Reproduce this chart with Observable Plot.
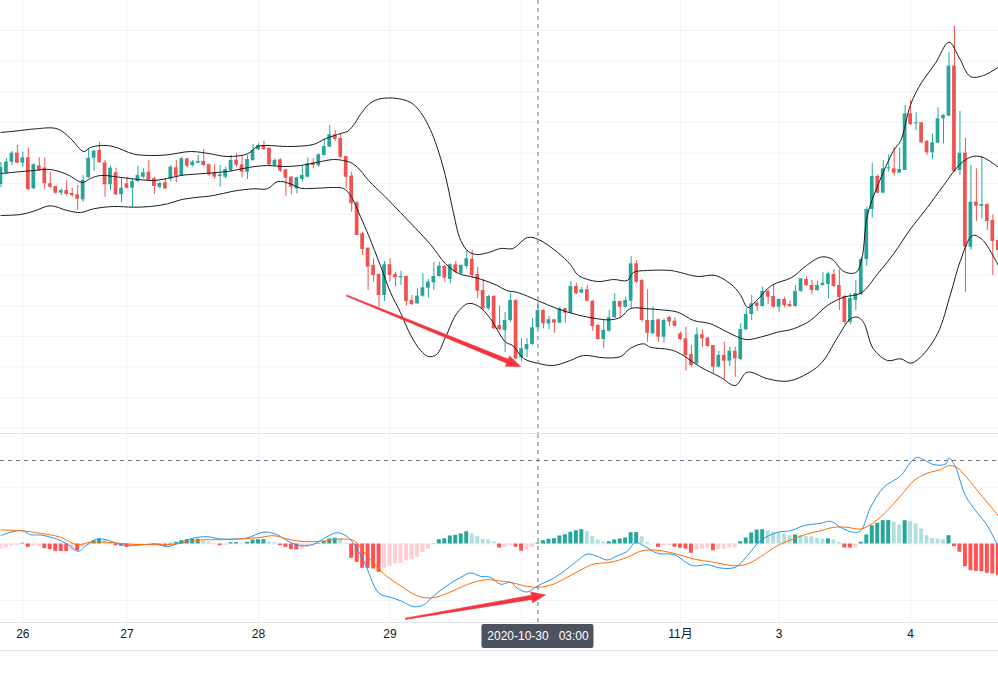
<!DOCTYPE html>
<html><head><meta charset="utf-8">
<script src="https://cdn.jsdelivr.net/npm/d3@7"></script>
<script src="https://cdn.jsdelivr.net/npm/@observablehq/plot@0.6"></script>
<style>
html,body{margin:0;padding:0;background:#fff;}
#wrap{width:998px;}
#main{height:433px;border-bottom:1px solid #e0e3eb;}
#macd{height:216px;border-bottom:1px solid #e0e3eb;}
svg{display:block;}
</style></head><body>
<div id="wrap"><div id="main"></div><div id="macd"></div></div>
<script>
// ---- hourly candles (index 0..182), price units ----
const opens = [
316,327.5,338.3,347.3,337.3,342.7,311.7,334.7,332.3,316.7,
314,307.3,310,307,305.7,300.7,322.7,342.3,350,337.7,
315.7,327.7,305.7,316.7,312.3,319,323.3,328.3,321.7,313.3,
317.7,321.7,332.7,325,341.7,335,337.3,339,335.7,327.7,
324,323.3,330,340.3,335.7,328.3,340,350.7,354.3,352.3,
335,340.7,330.7,323.3,311.7,321,323.3,337.3,335,345,
353.3,365.5,362,344,324.3,297.7,266.7,252.3,235,226,
205,235.7,226,222.7,224,200,196.7,204.3,212.3,217.7,
224,234,221,235.7,226.7,234,241,226,210,191.7,
204,175,170,180,200,142.7,150.7,156,172.7,190,
176.7,180.7,177.3,191.7,187.3,214,207.3,210.7,199.3,175,
161,169.3,182.7,199,193.3,199.3,236.7,220,180,166.7,
180.7,163.3,183,179.3,166.7,161.7,146,136.7,165.7,162.3,
155,133.3,145,139.3,149.3,141,170.7,186,197.3,194,
209,204,193.3,201,196,194,209,221,215,210,
215,216,226,215,204,178,200,206,241,291,
324,307.3,331.7,331.7,327.3,330,386.7,376.7,377.7,359,
347.7,357.3,381.7,384.3,434.3,330,347.3,253.3,298.3,294.3,
296,280,260];
const highs = [
338,342,349,355,348.3,352.3,336.7,342.7,342.7,328.3,
314,311.7,319.7,312.3,315,325,351.7,350,358.3,340,
334.3,332.3,321.7,323.3,321.7,334.3,331.7,340,323.3,318.3,
322.3,335,340,343.3,342.3,340,345,351,336.7,335.7,
335,333.3,345,346.7,345,345,356,356.7,359.3,352.3,
341.7,341.7,331,324,323.3,334,342.7,341.7,346.7,361.7,
375,370,367,344,328.3,299,268.3,252.3,241.7,226.7,
239,241.7,228.3,229.3,224.3,205,211.7,226.7,221,238.3,
238.3,235,236.7,239,235.7,250,250,233.3,221,205,
205,194.3,188,206.7,200.7,161.7,162,181.7,198.3,190.7,
184,180.7,193.3,192.7,219,217.3,213.3,215,200,175.7,
180,190,206.7,199.3,203.3,244,240,220.7,210.7,193.3,
181.3,181.3,184,182.7,168.3,173.3,155,172.7,170.7,163.3,
155,149.3,158.3,153.3,153.3,176.7,191.7,205,199.3,213.3,
210.7,216,201.7,203.3,199.3,215,221.7,223.3,220,219.3,
227.7,228.3,231,231,205,207,220,243,293,337.3,
325.7,340,345.7,353.3,352.3,395,400,387.7,378.3,360,
366.7,392.7,386,448.3,474.3,389,362.3,335,331.7,344.3,
296.7,285.7,264];
const lows = [
313,326,335,336.7,333.3,310,311,329.3,311,312.3,
306.3,305,304.3,303.3,290,298.3,322.3,329.3,337.7,303.3,
309.7,305,298,311.7,293,317.7,321.7,320,306,311.7,
311,318.3,317.7,324.3,332.3,333.3,336.7,334.3,324,321,
313.3,321.7,328.3,333.3,322.7,321,339,350,350,334.3,
333.3,328.3,304.3,305.7,306.7,318.3,322.7,331.7,333.3,344.3,
353.3,359,342,311.7,288.3,265,245,210,218.3,193.3,
199,218.3,213.3,215,194.3,195,196,203.3,202.3,210,
223.3,218.3,216.7,226.7,225.7,231.7,221.7,201.7,190,190,
171,170,148,178,140.7,139,143,155,171.7,171.7,
170.7,167.3,176.7,177.3,186.7,205.7,206.7,198.3,169.3,160.7,
151.7,168.3,182.3,183.3,192.7,191.7,216.7,178.3,158.3,166,
158.3,157.3,174,173.3,160,129.3,133.3,135,153.3,153.3,
127.3,132.7,120.7,134,123.3,140,170,180,189,193.3,
196,192.3,188.3,192.7,192.7,193.3,208.3,214,205.7,209.3,
214.3,201.7,213,190,176,176,190,205,234,282.3,
306.7,306.7,328.3,324.3,327.3,330,375,370,356.7,345,
341,356.7,356.7,384.3,328.3,325,207.7,250,279,281.7,
270,225,240];
const closes = [
333,338.5,347.3,337.3,342.7,311,335.7,330,316.7,313.3,
307.3,310,306,305,301.3,320,342.3,349.3,337.7,315.7,
332.3,305.7,312.3,312.3,319,325,327.7,320,314,317,
311.7,333.3,324.3,341.7,334.3,338.3,339,335,325.7,323.3,
325.7,331,340,335.3,328.3,341,350,355,351,335.7,
340,329.3,322.3,313.3,322.7,325,336.7,335,345.7,354,
365.7,361,343.3,323.3,296.7,265,251,233.3,225,205,
235.7,225,222.7,224,199,196,204.3,212.7,218.3,224,
234.3,222.3,235.7,228.3,235,241.7,225,209.3,191.7,204,
171.7,171,180,200,141.7,151.7,156,172.7,190,176.7,
180.7,177.3,191.7,187.3,214,206.7,210.7,199.3,174,161,
170,182.7,199,193.3,200,236.7,218.3,180,167.3,180,
163.3,180,178.5,174.3,161,145,135,165.7,161.7,154,
133.3,145,139.3,149.3,141.7,171,186,196.7,194,209,
203.3,193.3,201,195,194,209,221.7,215,210,215,
217.3,226.7,214,203,178,202,207,241,291,324,
307.3,331.7,332.3,327.3,331,386.7,376,377.7,357.7,347.7,
357.7,381.7,385,434.3,329,347.3,253.3,298.3,294.3,296,
279,259,250];

// ---- Bollinger bands, sampled [index, price] ----
const bbUpper = [[0,368],[3.6,370],[6,371.5],[10.3,371.7],[12.7,362],[15.1,349],[16.3,353],[18.2,355],[20.5,354],[24.2,346.5],[27.3,345],[30.4,345.7],[34.6,349],[38.2,346.7],[41.3,344],[45,346.7],[46.8,354],[48.6,355],[52.3,354],[57,356],[59.2,361.7],[62,367],[63.2,369],[64.3,375],[65.6,386],[67.1,396],[68.7,401],[70.5,402.5],[72.4,402],[74.2,399.5],[75.3,396],[76.6,388],[78,375],[79.3,358],[81.1,325],[82.4,292],[83.9,260],[85.3,249],[86.8,246],[89,248],[91.2,252],[93.4,252],[96.1,263],[98.1,261],[101.6,248],[103.9,236],[105.4,225],[108.9,219],[111.8,221],[114.3,220],[115.4,228],[118,230],[122.2,230],[124,228],[127.1,224],[130.4,225],[133.7,214],[135,205],[136.3,193],[137.9,200],[140.6,215],[144.3,223],[147,235],[149.7,243.5],[151.6,241.5],[153.8,229],[156,228],[157.1,242],[158.1,285],[160,315],[162.9,350],[164.2,360],[166,396],[168,418],[170.5,437],[173,458.3],[174.9,442.5],[176.9,424],[179.3,425],[182,433.3]];
const bbMiddle = [[0,327],[6,330],[9,331],[12.1,326],[14.9,318],[16.3,322],[18.2,325],[21.3,323.5],[24.2,321.5],[27.8,320],[30.4,322],[32.8,325],[36.4,326.7],[40.1,328.3],[42.4,330],[45.5,333.3],[48.6,335],[51.6,334],[54.7,335],[57.8,338.3],[60.7,341],[62.5,340],[63.8,338],[65.1,333],[67.1,320],[70.2,303.3],[72.9,288],[75.7,272],[78.4,256],[81.1,237],[83.5,227],[85.7,224],[87.7,221],[90.4,215.5],[92.3,210],[94.3,208],[97.9,200],[101.6,191.7],[105.2,185.7],[108.9,181.7],[111.2,180.7],[113.1,183.3],[114.9,192],[118,191.7],[120.4,190.7],[123.5,188.3],[126.4,180],[129.5,176.7],[132.6,168.3],[135.9,161],[138.6,163.3],[141.7,168.3],[144.6,171.7],[147.7,180],[150.8,195],[153.8,203.3],[156.9,207.3],[160,226.7],[162.9,246.7],[166,271.7],[169.1,293.3],[172,315],[175.1,336.7],[177.3,344],[179.1,343.3],[182,333.3]];
const bbLower = [[0,285],[3.6,286],[6,289.3],[9,294.7],[12.1,290],[14.5,288],[16.9,291.7],[20.5,294],[24.2,293.3],[27.3,294],[30.4,296.7],[32.8,300.7],[35.1,302.7],[38.8,305],[42.4,309.3],[46.1,311.7],[48.6,311.7],[50.5,319],[52.8,316.7],[54.7,312.3],[57.8,312.3],[60.7,313],[62.5,312],[63.8,305],[65.6,284],[67.1,265],[69.3,234],[71.1,208],[72.9,188],[74.8,165],[76.6,150],[78,144],[79.5,146],[81.1,163],[83.3,188],[85.3,197],[87.2,194],[89.3,182],[92.1,158.3],[93.4,155],[95.4,142],[97.9,137.3],[100.8,135],[103.9,140],[106.3,145],[110,142.7],[113.1,144],[114.9,152.3],[117.3,156.7],[118.5,153.3],[122.2,150.7],[124,146.7],[127.7,133.3],[131.3,123.3],[134,115],[136.2,128.3],[139.9,121.7],[143.5,119.3],[146.5,125],[149.6,136.7],[152.7,163.3],[155,181.7],[156.3,183.3],[157.4,178.3],[159.2,151.7],[161.8,140],[164.2,141.7],[166,137.3],[167.8,143.3],[170.9,166.7],[173.3,206.7],[175.1,240],[177.3,265],[179.1,260.7],[182,235]];

// ---- MACD ----
const histValues = [
-5,-4,-2,-1.7,0.7,-3.3,-2.3,-2.2,-4.7,-5.7,
-7.3,-7.4,-7.5,-6.7,-7,-3.3,-1,3.3,5,3.3,
1.7,-1.7,-2.3,-3.3,-1.7,-1.2,-0.8,-0.5,-0.9,-1.7,
-2.3,0.7,1.7,3.3,4.3,4.7,4.8,2.7,2,0.7,
-1.7,-1.3,1.3,1.4,0.7,1.7,4,4.3,4.4,2,
1.3,-1.7,-3.3,-5.7,-6,-5,-3.3,-2.3,0.7,2.3,
5,5.7,5,0.7,-14.3,-18.3,-24.3,-24.4,-25,-28.3,
-24.3,-22.7,-20,-19.3,-16.7,-15.7,-13.3,-8.3,-5,0.3,
4.3,5.3,8,8.7,10,12.3,10.3,7.3,4.7,4,
2.3,-4,-3.3,-1.7,-3.3,-7.3,-6,-3.3,1,3.3,
4.7,5.3,8,9.3,11.7,13.3,14.3,12.3,7.3,4,
2,2.3,4,5,6,11.3,11.4,7.3,1.7,0.3,
-3.3,-2.3,-1.7,-3.3,-4.3,-5,-9.3,-6,-5,-4.9,
-6.7,-5.7,-5,-4,-3.9,2.3,6,11,14,14.3,
13.3,11.7,11,10,8.3,9,8.3,7.3,7.2,5.7,
5,5.1,4,1.7,-4,-4.1,-3.9,1.7,9,18.3,
20.7,23.3,23.4,21.7,19,23.3,22.3,20,15,8.3,
5.7,5,4.3,8.3,-2.7,-8.3,-22.7,-26.7,-27.3,-27.7,
-29.3,-30,-31.7];
const histPrev = -5.6;
const difLine = [[0,8.3],[1.7,11.7],[3.9,13.3],[5.4,9.3],[7.2,9],[9.6,6],[12.1,0],[14.1,-7.3],[15.7,-1],[17.6,5],[19.4,4],[20.6,1.7],[23,-1.7],[25.5,-1],[28.5,0],[30.3,-2.7],[32.8,1.7],[35.2,6],[37.6,7.3],[40.1,5],[42.5,5],[44.9,6],[48,12],[50.4,9.3],[52.8,1.7],[54.7,-1.7],[57.1,0],[59.5,7.3],[61.4,11.3],[63.2,7.3],[64.4,0],[66.2,-16.7],[69,-49.3],[71.1,-53.3],[72.9,-56.7],[75.4,-62.7],[77.2,-60.7],[79,-51.7],[81.4,-41.7],[83.9,-33.3],[85.7,-29],[87.5,-32.3],[89.3,-33.3],[91.2,-40.3],[93,-38.3],[94.2,-44],[96,-48],[98,-41.7],[100.9,-34],[103.3,-25],[105.2,-16.7],[107,-10],[108.8,-12.3],[110.6,-16],[112.5,-11.7],[114.3,-7.3],[115.8,1.7],[117.3,-1.7],[119.8,-9.3],[122.8,-10.7],[126.2,-21.7],[128.9,-20.7],[131.3,-24],[134,-23.3],[136.2,-11.7],[138.6,3.3],[141.7,11.7],[144.1,13.3],[146.5,18.3],[149.6,20.7],[151.4,22.7],[153.2,16.7],[155.6,11.7],[156.9,13.3],[158.7,36.7],[161.1,56.7],[164.2,68.3],[166,81.7],[167.2,86.7],[168.5,84],[170.3,79.3],[172.4,80],[173,86],[174.2,76.7],[176,48.3],[178.1,31.7],[180,18.3],[182,-2.7]];
const deaLine = [[0,14],[3.6,13.3],[7.2,10.7],[10.9,6.7],[13.9,-0.7],[16.3,1.7],[19.4,1.7],[23,0],[26.7,-0.7],[30.3,-0.7],[32.8,0.7],[36.4,4],[40.1,4.3],[43.7,5],[47.4,6.7],[49.8,8.3],[52.2,5],[54.7,2.7],[58.3,2.7],[62,5],[64.4,3.3],[66.8,-11.7],[69.9,-30],[72.9,-41.7],[75.9,-51.7],[78.4,-54],[80.8,-50.7],[83.9,-43.3],[86.3,-38.3],[88.7,-35.7],[91.2,-37],[93,-38.3],[95.4,-41.7],[98,-43.3],[100.9,-40],[103.3,-33.3],[105.8,-26],[108.2,-20],[111.2,-18.3],[114.3,-13.3],[116.7,-7.3],[119.2,-6],[122.8,-9.3],[126.4,-15],[130.1,-18.3],[133.7,-21.7],[136.2,-20],[138.6,-12.7],[141.7,-1.7],[144.1,4],[147.1,10],[149.6,13.3],[152,16.7],[154.4,16.7],[156.9,15],[159.3,21.7],[161.7,33.3],[164.2,48.3],[166.6,63.3],[169,70.7],[171.4,74.3],[172.9,78.3],[174.4,76.7],[176.2,66.7],[178.7,50],[182,28.3]];

// ---- time axis ----
const gridIdx = [4, 23, 47, 71, 95, 124, 142, 166];
const tickIdx = [4, 23, 47, 71, 124, 142, 166];   // the "30" label sits under the crosshair label
const tickLabels = ["26", "27", "28", "29", "11月", "3", "4"];
const crossIdx = 98;
const crossLabel = "2020-10-30\u00a0\u00a0\u00a003:00";
const crossMacd = 83.5;

// ---- annotations (red arrows) ----
const arrowMain = {x1: 63.06, y1: 205, x2: 94.81, y2: 134};
const arrowMacd = {x1: 73.8, y1: -74.8, x2: 99.37, y2: -51};

const mainGrid = [470, 439.4, 408.8, 378.2, 347.6, 317, 286.4, 255.8, 225.2, 194.6, 164, 133.4, 102.8, 72.2];
const macdGrid = [56.2, 0, -56.5];

// ---------- rendering ----------
const W = 998;
const xDomain = [-0.0803, 182.036];
const kx = W / (xDomain[1] - xDomain[0]);
const UP = "#26a69a", DOWN = "#ef5350", GRID = "#f0f3fa", CROSS = "#6a7687", ARROW = "#f5333f";
const FONT = "'Liberation Sans', Arial, 'Noto Sans CJK SC', sans-serif";

const candles = opens.map((o, i) => ({i, o, h: highs[i], l: lows[i], c: closes[i]}));
const hist = histValues.map((v, i) => {
  const p = i > 0 ? histValues[i - 1] : histPrev;
  const col = v >= 0 ? (v >= p ? "#26a69a" : "#b2dfdb") : (v <= p ? "#ff5252" : "#ffcdd2");
  return {i, v, col};
});

function arrowPoly(a, ky) {
  const dx = (a.x2 - a.x1) * kx, dy = -(a.y2 - a.y1) * ky;
  const L = Math.hypot(dx, dy), ux = dx / L, uy = dy / L, nx = -uy, ny = ux;
  const head = 14, hw = 5.5, w0 = 0.6, w1 = 2.1;
  const bx = ux * (L - head), by = uy * (L - head);
  const pts = [
    [nx * w0, ny * w0], [bx + nx * w1, by + ny * w1], [bx + nx * hw, by + ny * hw],
    [dx, dy], [bx - nx * hw, by - ny * hw], [bx - nx * w1, by - ny * w1], [-nx * w0, -ny * w0]
  ];
  return pts.map(([px, py]) => [a.x1 + px / kx, a.y1 - py / ky]);
}

const bodyLo = d => Math.min(d.o, d.c);
const bodyHi = d => Math.max(d.o, d.c, Math.min(d.o, d.c) + 1);
const cCol = d => d.c >= d.o ? UP : DOWN;

const mainPlot = Plot.plot({
  width: W, height: 433,
  marginLeft: 0, marginRight: 0, marginTop: 0, marginBottom: 0,
  style: {fontFamily: FONT, background: "#fff"},
  x: {domain: xDomain, axis: null},
  y: {domain: [67, 500], axis: null},
  color: {type: "identity"},
  marks: [
    Plot.ruleY(mainGrid, {stroke: GRID}),
    Plot.ruleX(gridIdx, {stroke: GRID}),
    Plot.ruleX(candles, {x: "i", y1: "l", y2: "h", stroke: cCol, strokeWidth: 1}),
    Plot.rect(candles, {x1: d => d.i - 0.34, x2: d => d.i + 0.34, y1: bodyLo, y2: bodyHi, fill: cCol}),
    Plot.line(bbUpper, {x: d => d[0], y: d => d[1], curve: "catmull-rom", stroke: "#1c1c1c", strokeWidth: 1}),
    Plot.line(bbMiddle, {x: d => d[0], y: d => d[1], curve: "catmull-rom", stroke: "#1c1c1c", strokeWidth: 1}),
    Plot.line(bbLower, {x: d => d[0], y: d => d[1], curve: "catmull-rom", stroke: "#1c1c1c", strokeWidth: 1}),
    Plot.line(arrowPoly(arrowMain, 1), {x: d => d[0], y: d => d[1], fill: ARROW, stroke: ARROW, strokeWidth: 0.6}),
    Plot.ruleX([crossIdx], {stroke: CROSS, strokeDasharray: "4 4", strokeWidth: 1})
  ]
});
document.getElementById("main").appendChild(mainPlot);

const macdPlot = Plot.plot({
  width: W, height: 216,
  marginLeft: 0, marginRight: 0, marginTop: 0, marginBottom: 28,
  style: {fontFamily: FONT, background: "#fff", overflow: "visible"},
  x: {domain: xDomain, axis: null},
  y: {domain: [-78.5, 109.5], axis: null},
  color: {type: "identity"},
  marks: [
    Plot.ruleY(macdGrid, {stroke: GRID}),
    Plot.ruleX(gridIdx, {y1: -78.5, y2: 109.5, stroke: GRID}),
    Plot.rect(hist, {x1: d => d.i - 0.36, x2: d => d.i + 0.36, y1: () => 0, y2: "v", fill: "col"}),
    Plot.line(difLine, {x: d => d[0], y: d => d[1], curve: "catmull-rom", stroke: "#2196f3", strokeWidth: 1}),
    Plot.line(deaLine, {x: d => d[0], y: d => d[1], curve: "catmull-rom", stroke: "#ff6d00", strokeWidth: 1}),
    Plot.ruleY([crossMacd], {stroke: CROSS, strokeDasharray: "4 4", strokeWidth: 1}),
    Plot.ruleX([crossIdx], {y1: -78.5, y2: 109.5, stroke: CROSS, strokeDasharray: "4 4", strokeWidth: 1}),
    Plot.line(arrowPoly(arrowMacd, 1), {x: d => d[0], y: d => d[1], fill: ARROW, stroke: ARROW, strokeWidth: 0.6}),
    Plot.ruleY([-78.5], {stroke: "#e0e3eb"}),
    Plot.text(tickIdx, {x: d => d, text: (d, j) => tickLabels[j], frameAnchor: "bottom", dy: 15.5, fill: "#131722", fontSize: 12}),
    Plot.rect([crossIdx], {x1: d => d - 56 / kx, x2: d => d + 56 / kx, y1: () => -80.5, y2: () => -104.5, fill: "#4c525e", rx: 2}),
    Plot.text([crossIdx], {x: d => d, y: () => -92.5, text: () => crossLabel, fill: "#ffffff", fontSize: 12})
  ]
});
document.getElementById("macd").appendChild(macdPlot);
</script>
</body></html>
